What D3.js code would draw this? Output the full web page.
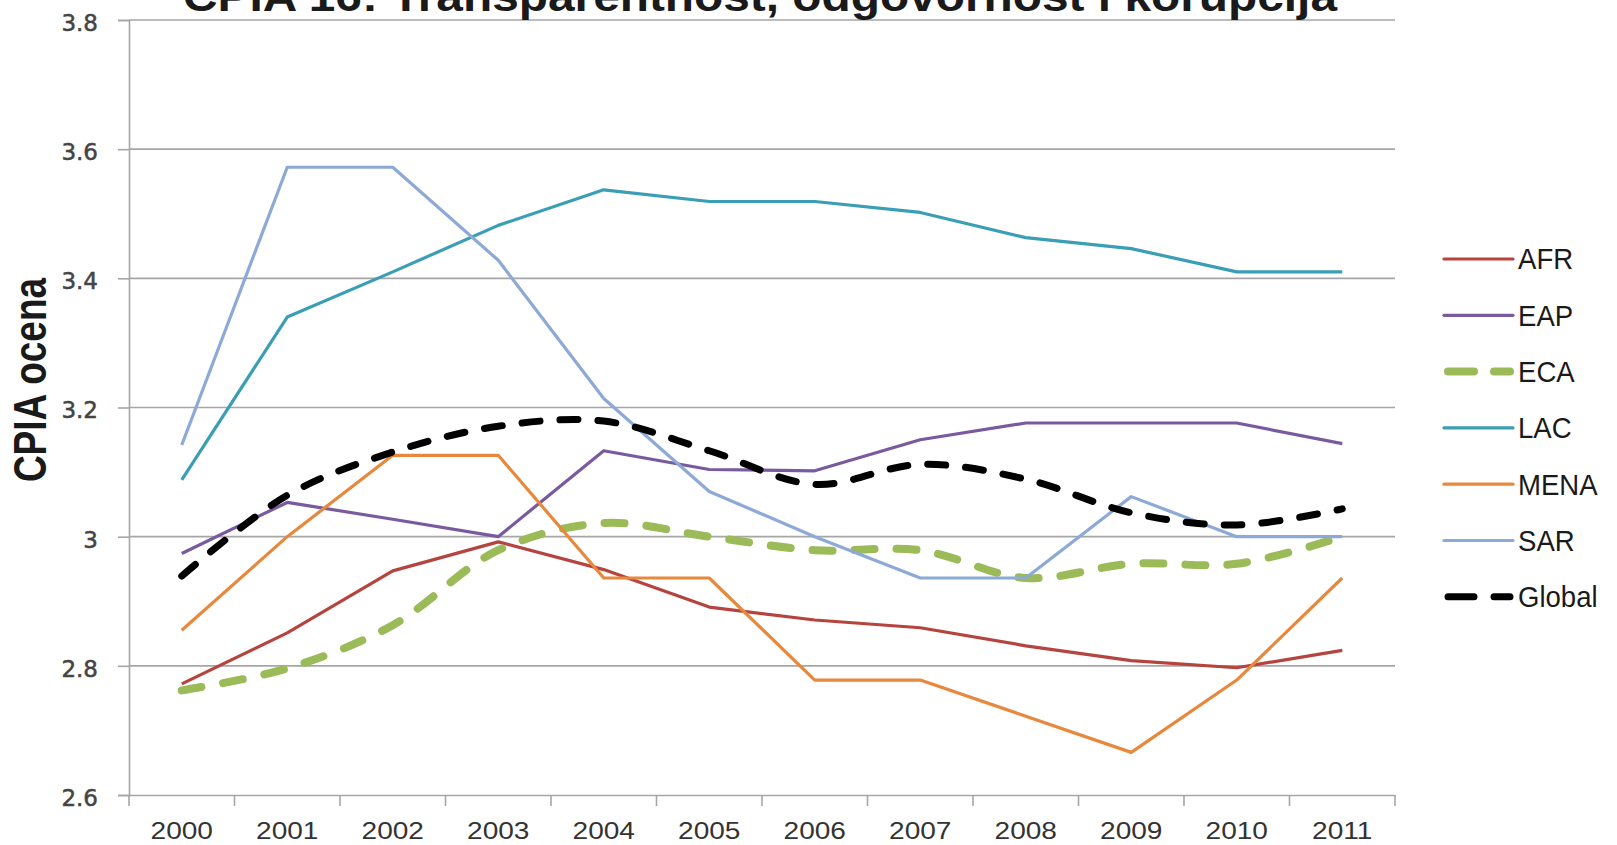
<!DOCTYPE html>
<html>
<head>
<meta charset="utf-8">
<script src="https://cdn.jsdelivr.net/npm/d3@7"></script>
<style>
  body { margin: 0; background: #fff; }
  svg { display: block; }
</style>
</head>
<body>
<div class="chart"></div>
<script>

// data
const years = ['2000','2001','2002','2003','2004','2005','2006','2007','2008','2009','2010','2011'];

const afr    = [2.772, 2.851, 2.947, 2.992, 2.949, 2.891, 2.871, 2.859, 2.831, 2.808, 2.797, 2.824];
const eap    = [2.974, 3.053, 3.027, 3.000, 3.133, 3.104, 3.102, 3.150, 3.176, 3.176, 3.176, 3.144];
const eca    = [2.762, 2.796, 2.863, 2.979, 3.021, 3.000, 2.979, 2.979, 2.936, 2.958, 2.958, 3.000];
const lac    = [3.088, 3.340, 3.410, 3.482, 3.537, 3.519, 3.519, 3.502, 3.463, 3.446, 3.410, 3.410];
const mena   = [2.855, 3.000, 3.126, 3.126, 2.936, 2.936, 2.778, 2.778, 2.722, 2.666, 2.778, 2.936];
const sar    = [3.142, 3.572, 3.572, 3.428, 3.214, 3.070, 3.000, 2.936, 2.936, 3.062, 3.000, 3.000];
const global = [2.939, 3.064, 3.131, 3.171, 3.179, 3.133, 3.081, 3.112, 3.089, 3.037, 3.018, 3.043];

const yTicks = [2.6, 2.8, 3.0, 3.2, 3.4, 3.6, 3.8];

const series = [
  {name: 'AFR',    values: afr,    color: '#B5443F', width: 3.2, dash: null, smooth: false},
  {name: 'EAP',    values: eap,    color: '#7A5A9E', width: 3.2, dash: null, smooth: false},
  {name: 'ECA',    values: eca,    color: '#9BBB59', width: 8, dash: '20,22', smooth: true},
  {name: 'LAC',    values: lac,    color: '#3A9EB5', width: 3.2, dash: null, smooth: false},
  {name: 'MENA',   values: mena,   color: '#E8883C', width: 3.2, dash: null, smooth: false},
  {name: 'SAR',    values: sar,    color: '#8DA9D6', width: 3.2, dash: null, smooth: false},
  {name: 'Global', values: global, color: '#000000', width: 7, dash: '18,20', smooth: true}
];

const width = 1617;
const height = 845;
const margin = {top: 20, right: 222, bottom: 50, left: 129};

const svg = d3.select('.chart')
  .append('svg')
  .attr('width', width)
  .attr('height', height);

// the original picture is stretched sideways, so widen some texts
function stretch(sel, k) {
  sel.each(function() {
    const w = this.getComputedTextLength();
    d3.select(this)
      .attr('textLength', w * k)
      .attr('lengthAdjust', 'spacingAndGlyphs');
  });
}

const xScale = d3.scaleBand()
  .domain(years)
  .range([margin.left, width - margin.right])
  .padding(0);

const yScale = d3.scaleLinear()
  .domain([2.6, 3.8])
  .range([height - margin.bottom, margin.top]);

const gridColor = '#A6A6A6';

// horizontal gridlines
svg.append('g')
  .selectAll('line')
  .data(yTicks.slice(1))
  .enter()
  .append('line')
    .attr('x1', margin.left)
    .attr('x2', width - margin.right)
    .attr('y1', d => yScale(d))
    .attr('y2', d => yScale(d))
    .attr('stroke', gridColor)
    .attr('stroke-width', 1.6);

// y axis
const yAxis = d3.axisLeft(yScale)
  .tickValues(yTicks)
  .tickSize(11)
  .tickPadding(20)
  .tickFormat(d => d === 3 ? '3' : d3.format('.1f')(d));

const gy = svg.append('g')
  .attr('transform', `translate(${margin.left},0)`)
  .call(yAxis);

gy.select('.domain').attr('stroke', gridColor).attr('stroke-width', 1.6);
gy.selectAll('.tick line').attr('stroke', gridColor).attr('stroke-width', 1.6);
gy.selectAll('.tick text')
  .attr('fill', '#444')
  .attr('dy', '0.45em')
  .attr('stroke', '#444')
  .attr('stroke-width', 0.5)
  .style('font-family', '"DejaVu Sans", Verdana, sans-serif')
  .style('font-size', '23px');

// x axis: ticks at band boundaries
const xAxis = d3.axisBottom(xScale).tickSize(0).tickPadding(28);

const gx = svg.append('g')
  .attr('transform', `translate(0,${yScale(2.6)})`)
  .call(xAxis);

gx.select('.domain').attr('stroke', gridColor).attr('stroke-width', 1.6);
gx.selectAll('.tick text')
  .attr('fill', '#333')
  .style('font-family', '"Liberation Sans", Arial, sans-serif')
  .style('font-size', '23px')
  .call(stretch, 1.22);

gx.selectAll('line.bound')
  .data(years.concat(['end']))
  .enter()
  .append('line')
    .classed('bound', true)
    .attr('x1', (d, i) => margin.left + i * xScale.bandwidth())
    .attr('x2', (d, i) => margin.left + i * xScale.bandwidth())
    .attr('y1', 0)
    .attr('y2', 11)
    .attr('stroke', gridColor)
    .attr('stroke-width', 1.6);

// lines
const xc = d => xScale(d) + xScale.bandwidth() / 2;

series.forEach(s => {
  const line = d3.line()
    .x((d, i) => xc(years[i]))
    .y(d => yScale(d))
    .curve(s.smooth ? d3.curveCatmullRom.alpha(0.5) : d3.curveLinear);

  svg.append('path')
    .datum(s.values)
    .attr('d', line)
    .attr('fill', 'none')
    .attr('stroke', s.color)
    .attr('stroke-width', s.width)
    .attr('stroke-linejoin', 'round')
    .attr('stroke-linecap', s.dash ? 'round' : 'butt')
    .attr('stroke-dasharray', s.dash);
});

// legend
const legend = svg.append('g')
  .attr('transform', 'translate(1444,259)');

const items = legend.selectAll('g')
  .data(series)
  .enter()
  .append('g')
    .attr('transform', (d, i) => `translate(0,${i * 56.3})`);

items.append('line')
  .attr('x1', d => d.dash ? 4 : 0)
  .attr('x2', d => d.dash ? 66 : 69)
  .attr('stroke', d => d.color)
  .attr('stroke-width', d => d.width)
  .attr('stroke-linecap', 'round')
  .attr('stroke-dasharray', d => d.dash ? '26,20' : null);

items.append('text')
  .attr('x', 74)
  .attr('dy', '0.36em')
  .attr('fill', '#1a1a1a')
  .style('font-family', '"Liberation Sans", Arial, sans-serif')
  .style('font-size', '29px')
  .text(d => d.name)
  .call(stretch, 0.95);

// title, cut off at the top like the original
svg.append('text')
  .attr('x', 760)
  .attr('y', 11)
  .attr('text-anchor', 'middle')
  .attr('textLength', 1154)
  .attr('lengthAdjust', 'spacingAndGlyphs')
  .style('font-family', '"Liberation Sans", Arial, sans-serif')
  .style('font-weight', 'bold')
  .style('font-size', '42px')
  .attr('fill', '#1a1a1a')
  .text('CPIA 16: Transparentnost, odgovornost i korupcija');

// y axis title, thickened sideways like the stretched original
svg.append('text')
  .attr('transform', 'translate(46,380) rotate(-90) scale(1,1.25)')
  .attr('text-anchor', 'middle')
  .style('font-family', '"Liberation Sans", Arial, sans-serif')
  .style('font-weight', 'bold')
  .style('font-size', '37px')
  .attr('fill', '#1a1a1a')
  .text('CPIA ocena');

</script>
</body>
</html>
